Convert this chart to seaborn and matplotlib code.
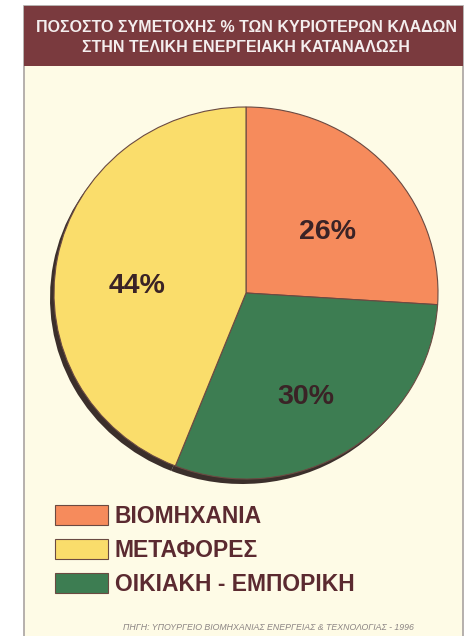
import matplotlib
matplotlib.use("Agg")
import matplotlib.pyplot as plt
import seaborn as sns
from matplotlib.patches import Rectangle

# ---- data ----
title_lines = ["ΠΟΣΟΣΤΟ ΣΥΜΕΤΟΧΗΣ % ΤΩΝ ΚΥΡΙΟΤΕΡΩΝ ΚΛΑΔΩΝ",
               "ΣΤΗΝ ΤΕΛΙΚΗ ΕΝΕΡΓΕΙΑΚΗ ΚΑΤΑΝΑΛΩΣΗ"]
categories = ["ΒΙΟΜΗΧΑΝΙΑ", "ΜΕΤΑΦΟΡΕΣ", "ΟΙΚΙΑΚΗ - ΕΜΠΟΡΙΚΗ"]
shares = [26, 44, 30]
pie_order = [0, 2, 1]  # clockwise from the top
source_text = "ΠΗΓΗ: ΥΠΟΥΡΓΕΙΟ ΒΙΟΜΗΧΑΝΙΑΣ ΕΝΕΡΓΕΙΑΣ & ΤΕΧΝΟΛΟΓΙΑΣ - 1996"

# ---- style ----
sns.set_theme(style="white")
plt.rcParams['font.family'] = ['Liberation Sans', 'DejaVu Sans']
palette = sns.color_palette(["#f68b5c", "#fadd6b", "#3d7d52"])

W, H = 470, 636
fig = plt.figure(figsize=(W / 100, H / 100), dpi=100, facecolor="white")

def fx(px):
    return px / W

def fy(py):
    return 1 - py / H

# card background and title band
fig.patches.append(Rectangle((fx(24), fy(637)), fx(463) - fx(24), fy(6) - fy(637),
                             transform=fig.transFigure, facecolor="#fefbe6",
                             edgecolor="#a9a3a1", linewidth=1.2, zorder=-3))
fig.patches.append(Rectangle((fx(24), fy(66)), fx(463) - fx(24), fy(6) - fy(66),
                             transform=fig.transFigure, facecolor="#7a3a3e",
                             edgecolor="none", zorder=-2))
for i, line in enumerate(title_lines):
    fig.text(fx(246), fy(28 + 20 * i), line, ha="center", va="center",
             color="#f4eeee", fontsize=11.5, fontweight="bold", zorder=2)

# pie (slightly squashed ellipse)
cx, cy, rx, ry = 246, 293, 192, 186
ax = fig.add_axes([fx(cx - rx), fy(cy + ry), 2 * rx / W, 2 * ry / H])
ax.set_zorder(1)
vals = [shares[i] for i in pie_order]
cols = [palette[i] for i in pie_order]

shadow, _ = ax.pie(vals, startangle=90, counterclock=False,
                   colors=["#3b2f2b"] * 3, center=(-4 / rx, -5 / ry),
                   wedgeprops=dict(linewidth=0))
wedges, _, autotexts = ax.pie(vals, startangle=90, counterclock=False, colors=cols,
                              autopct=lambda p: f"{p:.0f}%", pctdistance=0.58,
                              wedgeprops=dict(edgecolor="#6b4a42", linewidth=0.8),
                              textprops=dict(fontsize=20.5, fontweight="bold", color="#3a2326"))
for t in autotexts:
    t.set_va("top")
for w in list(shadow) + list(wedges):
    w.set_clip_on(False)
ax.set_aspect("auto")
ax.set_xlim(-1, 1)
ax.set_ylim(-1, 1)
ax.axis("off")

# legend
handle_for = {pie_order[k]: wedges[k] for k in range(len(pie_order))}
handles = [handle_for[i] for i in range(len(categories))]
fs = 16.5
fig.legend(handles, categories, loc="upper left",
           bbox_to_anchor=(fx(55), fy(505)), frameon=False,
           prop=dict(weight="bold", size=fs), labelcolor="#5b2a30",
           handlelength=53 / (fs * 100 / 72), handleheight=22 / (fs * 100 / 72),
           handletextpad=0.3, labelspacing=0.48, borderpad=0, borderaxespad=0)

fig.text(fx(268), fy(627), source_text, ha="center", va="center",
         color="#8c8584", fontsize=6.3, style="italic")

fig.savefig("out.png", dpi=100, facecolor="white")
